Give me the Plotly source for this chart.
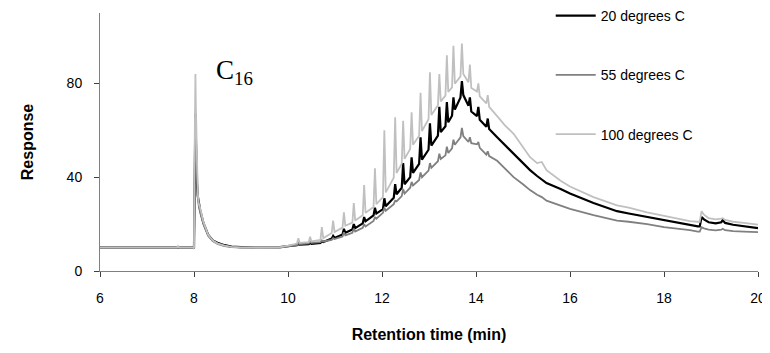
import plotly.graph_objects as go

# Retention time (min) shared by all three traces
retention_time = [
    6.00, 7.64, 7.66, 7.68, 7.98, 8.00, 8.01, 8.02, 8.03, 8.04, 8.05, 8.06, 8.08, 8.10, 8.13,
    8.20, 8.30, 8.40, 8.50, 8.65, 8.80, 9.00, 9.40, 9.83, 10.00, 10.19, 10.22, 10.25, 10.44,
    10.47, 10.50, 10.69, 10.72, 10.75,
    10.93, 10.96, 10.99, 11.16, 11.19, 11.22, 11.37, 11.40, 11.43, 11.59, 11.62, 11.65,
    11.82, 11.85, 11.88, 12.02, 12.05, 12.08, 12.25, 12.28, 12.31, 12.42, 12.45, 12.48,
    12.60, 12.63, 12.66, 12.79, 12.82, 12.85, 12.99, 13.02, 13.05, 13.19, 13.22, 13.25,
    13.35, 13.38, 13.41, 13.49, 13.52, 13.55, 13.67, 13.70, 13.73, 13.84, 13.87, 13.90,
    14.02, 14.05, 14.08, 14.22, 14.25, 14.28,
    14.45, 14.62, 14.80, 15.00, 15.15, 15.30, 15.40, 15.50, 15.80, 16.00, 16.50, 17.00,
    17.25, 17.64, 18.00, 18.34, 18.55, 18.72, 18.76, 18.80, 18.85, 18.95, 19.10, 19.22,
    19.25, 19.30, 19.47, 19.70, 20.00,
]

response_20C = [
    10, 10, 10, 10, 10, 9.6, 40, 62, 67, 55, 45, 38, 32, 29, 26,
    20.5, 15.5, 13, 12, 11, 10.4, 10.2, 10.1, 10.2, 10.6, 11, 11.5, 11.2, 11.4,
    12, 11.6, 12, 12.8, 12.4,
    13.8, 15, 14.1, 15.6, 18, 16.3, 17.7, 20, 18.3, 20.3, 23, 21.2,
    23.7, 27, 24.5, 26.4, 31, 27.6, 31.2, 37, 32.7, 35.5, 46, 37,
    40, 48.5, 41.8, 45.7, 57, 47.5, 51.7, 63, 53.5, 57.7, 70, 59.2,
    61.7, 72, 63.4, 66.2, 74, 68.8, 74, 81, 75, 70.5, 74, 68,
    66, 70, 64.5, 61.5, 65, 60.5,
    57, 53.5, 50, 46, 43, 40.5, 39, 37.5, 35, 33, 29, 25.5,
    24.5, 23, 21.5, 20.5, 19.6, 19, 19, 23, 22, 20.8, 20.3, 20.8,
    21.7, 20.5, 19.7, 19.2, 18.3,
]

response_55C = [
    10, 10, 10, 10, 10, 9.6, 40, 63, 66, 60, 50, 40, 32, 28, 25,
    20, 15, 12.8, 11.5, 10.6, 10.2, 10, 10, 10, 10.5, 11, 12, 11.5, 11.8,
    12.5, 12, 12.3, 13, 12.6,
    13.3, 14, 13.6, 14.7, 16.5, 15.2, 16.3, 18, 16.8, 18.4, 20, 19,
    21.3, 23, 22.3, 24.8, 27, 25.7, 28.5, 30, 29.7, 31.9, 35, 33,
    35.5, 38, 36.5, 38.8, 42, 40, 42.8, 46, 44, 46.8, 50, 47.8,
    49.3, 53, 50.3, 52.3, 56, 53.8, 57, 61, 57.5, 55, 57, 54.5,
    54, 55, 52.5, 49.6, 51, 49,
    47, 43.5, 40, 37, 34.5, 32.5, 31.5, 30, 28, 26.5, 23.8, 21.5,
    21, 20, 18.7, 18, 17.4, 16.8, 16.8, 18.7, 18.2, 17.6, 17.3, 17.6,
    18, 17.4, 17, 16.8, 16.6,
]

response_100C = [
    10, 10, 10.6, 10, 10, 9.6, 45, 72, 84, 70, 60, 42, 33, 29, 27,
    21, 15.5, 13, 11.8, 10.8, 10.3, 10.1, 10, 10.2, 10.8, 11.7, 14, 12, 12.3,
    14.6, 12.6, 13.3, 18.7, 14,
    16.2, 21.5, 16.6, 18.5, 25, 19.3, 20.6, 29, 21.5, 23.8, 36.6, 24.8,
    27.3, 43.8, 28.5, 31.5, 60, 33.5, 39.8, 65.5, 41.8, 45.7, 64, 47.8,
    52, 67.7, 53.8, 57.7, 76, 59.7, 64.7, 84.7, 66.5, 70.7, 84, 72.3,
    74.8, 92, 76.3, 78.3, 96, 79.8, 83, 97, 84, 80.5, 88, 78,
    76.5, 80, 74.5, 71.5, 75, 70,
    66, 62, 58.5, 53, 48.5, 46, 46.5, 43, 38.5, 36, 31.5, 28,
    27, 25, 23.5, 22.2, 21.3, 21, 21, 25.5, 24, 22.5, 22, 22.3,
    22.5, 21.8, 21, 20.5, 19.8,
]

series_names = ["20 degrees C", "55 degrees C", "100 degrees C"]
series_colors = ["#000000", "#808080", "#C0C0C0"]
series_values = [response_20C, response_55C, response_100C]

x_ticks = [6, 8, 10, 12, 14, 16, 18, 20]
y_ticks = [0, 40, 80]

fig = go.Figure()
for i, (name, color, vals) in enumerate(zip(series_names, series_colors, series_values)):
    fig.add_trace(go.Scatter(
        x=retention_time, y=vals, mode="lines", name=name,
        line=dict(color=color, width=2.2 if i == 0 else 1.8),
        legendgroup=name,
    ))

axis_font = dict(family="Liberation Sans, Arial, sans-serif", size=14, color="#000000")
title_font = dict(family="Liberation Sans, Arial, sans-serif", size=16, color="#000000")

# the page body has an 8px margin, so the figure is sized to fit inside the window
fig.update_layout(
    width=762, height=345,
    margin=dict(l=92, r=12, t=5, b=82, autoexpand=False),
    paper_bgcolor="white", plot_bgcolor="white",
    showlegend=True,
    legend=dict(
        x=0.685, y=1.05, xanchor="left", yanchor="top",
        font=dict(family="Liberation Sans, Arial, sans-serif", size=14, color="#000000"),
        tracegroupgap=38, bgcolor="rgba(0,0,0,0)", itemwidth=40,
    ),
    xaxis=dict(
        range=[6, 20], tickvals=x_ticks, ticktext=[str(v) for v in x_ticks],
        showgrid=False, zeroline=False, showline=True, linecolor="#808080", linewidth=1,
        ticks="outside", ticklen=5, tickcolor="#404040", tickfont=axis_font,
        ticklabelstandoff=9, automargin=False,
        title=dict(text="<b>Retention time (min)</b>", font=title_font, standoff=24),
    ),
    yaxis=dict(
        range=[0, 110], tickvals=y_ticks, ticktext=[str(v) for v in y_ticks],
        showgrid=False, zeroline=False, showline=True, linecolor="#808080", linewidth=1,
        ticks="outside", ticklen=5, tickcolor="#404040", tickfont=axis_font,
        ticklabelstandoff=9, automargin=False,
        title=dict(text="<b>Response</b>", font=title_font, standoff=29),
    ),
    annotations=[dict(
        x=8.43, y=85, xref="x", yref="y", xanchor="left", yanchor="middle",
        text="C<sub>16</sub>", showarrow=False,
        font=dict(family="Liberation Serif, Times New Roman, serif", size=27, color="#000000"),
    )],
)

fig.write_html("out.html")
